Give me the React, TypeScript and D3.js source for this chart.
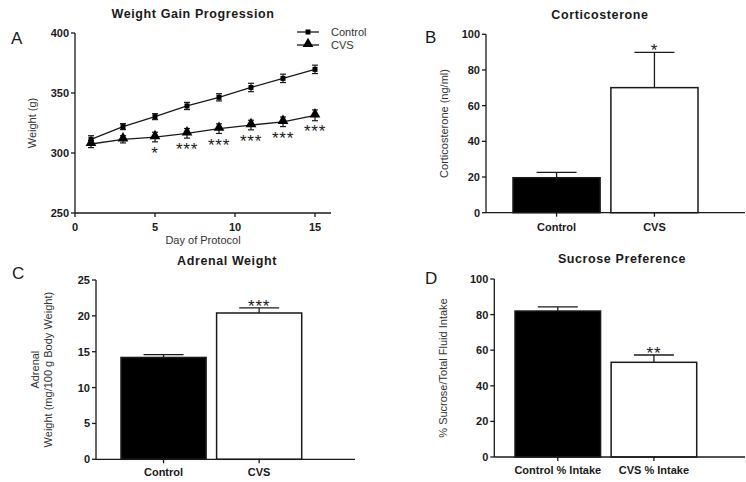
import * as d3 from 'd3';

const days = [1, 3, 5, 7, 9, 11, 13, 15];
const controlWeight = [311.4, 322, 330.3, 339.2, 346.4, 354.6, 362.2, 369.7];
const controlWeightErr = [3, 2.5, 2.5, 3, 3, 3.5, 3.5, 3.5];
const cvsWeight = [307.5, 311.4, 313.3, 316.4, 320.3, 323.3, 326, 331.4];
const cvsWeightErr = [3, 3, 4, 4, 4, 4, 4, 4.5];
const weightStars = ['', '', '*', '***', '***', '***', '***', '***'];
const weightTicks = [250, 300, 350, 400];
const dayTicks = [0, 5, 10, 15];

const groups = ['Control', 'CVS'];
const corticosterone = [19.6, 70.1];
const corticosteroneErr = [3, 19.8];
const corticosteroneStars = ['', '*'];

const adrenal = [14.2, 20.4];
const adrenalErr = [0.4, 0.7];
const adrenalStars = ['', '***'];

const sucroseGroups = ['Control % Intake', 'CVS % Intake'];
const sucrose = [82, 53.2];
const sucroseErr = [2.3, 4.1];
const sucroseStars = ['', '**'];

const FONT = '"Liberation Sans", Arial, sans-serif';
const INK = '#1a1a1a';
const STAR_SIZE = 17;

function LeftAxis({ scale, x, ticks }: { scale: d3.ScaleLinear<number, number>; x: number; ticks: number[] }) {
  const [y0, y1] = scale.range();
  return (
    <g>
      <line x1={x} x2={x} y1={y0} y2={y1} stroke={INK} strokeWidth={1.3} />
      {ticks.map((t) => (
        <g key={t}>
          <line x1={x - 4} x2={x} y1={scale(t)} y2={scale(t)} stroke={INK} strokeWidth={1.3} />
          <text x={x - 6} y={scale(t) + 4} textAnchor="end" fontSize={11} fontWeight="bold" fill={INK}>
            {t}
          </text>
        </g>
      ))}
    </g>
  );
}

interface BarPanelProps {
  letter: string;
  letterPos: [number, number];
  title: string;
  titleX: number;
  titleY: number;
  cats: string[];
  values: number[];
  errs: number[];
  stars: string[];
  yMax: number;
  yTicks: number[];
  axisX: number;
  axisEnd: number;
  yTop: number;
  yBottom: number;
  barRange: [number, number];
  yLabel: string[];
  yLabelX: number;
  labelBaseline: number;
}

function BarPanel(p: BarPanelProps) {
  const y = d3.scaleLinear().domain([0, p.yMax]).range([p.yBottom, p.yTop]);
  const x = d3.scaleBand<string>().domain(p.cats).range(p.barRange).paddingInner(0.11).paddingOuter(0);
  const bw = x.bandwidth();
  const cap = 40;
  const midY = (p.yTop + p.yBottom) / 2;
  return (
    <g>
      <text x={p.letterPos[0]} y={p.letterPos[1]} fontSize={17} fill={INK}>
        {p.letter}
      </text>
      <text x={p.titleX} y={p.titleY} textAnchor="middle" fontSize={12.5} fontWeight="bold" letterSpacing={0.6} fill={INK}>
        {p.title}
      </text>
      {p.cats.map((c, i) => {
        const cx = x(c)! + bw / 2;
        const top = y(p.values[i] + p.errs[i]);
        return (
          <g key={c}>
            <line x1={cx} x2={cx} y1={y(p.values[i])} y2={top} stroke={INK} strokeWidth={1.3} />
            <line x1={cx - cap / 2} x2={cx + cap / 2} y1={top} y2={top} stroke={INK} strokeWidth={1.3} />
            <rect
              x={x(c)!}
              y={y(p.values[i])}
              width={bw}
              height={y(0) - y(p.values[i])}
              fill={i === 0 ? '#000' : '#fff'}
              stroke={INK}
              strokeWidth={1.5}
            />
            {p.stars[i] && (
              <text x={cx} y={top + 4} textAnchor="middle" fontSize={STAR_SIZE} letterSpacing={0.8} fill={INK}>
                {p.stars[i]}
              </text>
            )}
            <line x1={cx} x2={cx} y1={p.yBottom} y2={p.yBottom + 4} stroke={INK} strokeWidth={1.3} />
            <text x={cx} y={p.labelBaseline} textAnchor="middle" fontSize={11} fontWeight="bold" fill={INK}>
              {c}
            </text>
          </g>
        );
      })}
      <line x1={p.axisX} x2={p.axisEnd} y1={p.yBottom} y2={p.yBottom} stroke={INK} strokeWidth={1.3} />
      <LeftAxis scale={y} x={p.axisX} ticks={p.yTicks} />
      {p.yLabel.map((l, i) => {
        const lx = p.yLabelX + (i - (p.yLabel.length - 1) / 2) * 13;
        return (
          <text key={l} transform={`translate(${lx},${midY}) rotate(-90)`} textAnchor="middle" fontSize={11} fill="#333">
            {l}
          </text>
        );
      })}
    </g>
  );
}

function WeightPanel() {
  const x = d3.scaleLinear().domain([0, 16]).range([75, 331]);
  const y = d3.scaleLinear().domain([250, 400]).range([213, 33]);
  const line = d3
    .line<number>()
    .x((_, i) => x(days[i]))
    .y((d) => y(d));
  const tri = d3.symbol(d3.symbolTriangle, 50)()!;
  return (
    <g>
      <text x={11} y={44} fontSize={17} fill={INK}>A</text>
      <text x={193} y={18} textAnchor="middle" fontSize={12.5} fontWeight="bold" letterSpacing={0.6} fill={INK}>
        Weight Gain Progression
      </text>
      <path d={line(controlWeight)!} fill="none" stroke={INK} strokeWidth={1.3} />
      <path d={line(cvsWeight)!} fill="none" stroke={INK} strokeWidth={1.3} />
      {days.map((d, i) => (
        <g key={d}>
          {[
            [controlWeight[i], controlWeightErr[i]],
            [cvsWeight[i], cvsWeightErr[i]],
          ].map(([v, e], k) => (
            <g key={k}>
              <line x1={x(d)} x2={x(d)} y1={y(v - e)} y2={y(v + e)} stroke={INK} strokeWidth={1.2} />
              <line x1={x(d) - 3} x2={x(d) + 3} y1={y(v - e)} y2={y(v - e)} stroke={INK} strokeWidth={1.2} />
              <line x1={x(d) - 3} x2={x(d) + 3} y1={y(v + e)} y2={y(v + e)} stroke={INK} strokeWidth={1.2} />
            </g>
          ))}
          <rect x={x(d) - 2.5} y={y(controlWeight[i]) - 2.5} width={5} height={5} fill="#000" />
          <path d={tri} transform={`translate(${x(d)},${y(cvsWeight[i]) - 1})`} fill="#000" />
          {weightStars[i] && (
            <text x={x(d)} y={y(cvsWeight[i]) + 22} textAnchor="middle" fontSize={STAR_SIZE} letterSpacing={0.8} fill={INK}>
              {weightStars[i]}
            </text>
          )}
        </g>
      ))}
      <line x1={75} x2={331} y1={213} y2={213} stroke={INK} strokeWidth={1.3} />
      {dayTicks.map((t) => (
        <g key={t}>
          <line x1={x(t)} x2={x(t)} y1={213} y2={217} stroke={INK} strokeWidth={1.3} />
          <text x={x(t)} y={231} textAnchor="middle" fontSize={11} fontWeight="bold" fill={INK}>
            {t}
          </text>
        </g>
      ))}
      <LeftAxis scale={y} x={75} ticks={weightTicks} />
      <text x={203} y={244} textAnchor="middle" fontSize={11} fill="#333">Day of Protocol</text>
      <text transform="translate(36,123) rotate(-90)" textAnchor="middle" fontSize={11} fill="#333">
        Weight (g)
      </text>
      <line x1={297} x2={319} y1={32} y2={32} stroke={INK} strokeWidth={1.3} />
      <rect x={305.5} y={29.5} width={5} height={5} fill="#000" />
      <text x={331} y={36} fontSize={11} fill="#333">Control</text>
      <line x1={297} x2={319} y1={45} y2={45} stroke={INK} strokeWidth={1.3} />
      <path d={tri} transform="translate(308,44)" fill="#000" />
      <text x={331} y={49} fontSize={11} fill="#333">CVS</text>
    </g>
  );
}

export default function App() {
  return (
    <svg width={746} height={482} style={{ position: 'absolute', left: 0, top: 0, background: '#fff' }} fontFamily={FONT}>
      <rect width={746} height={482} fill="#fff" />
      <WeightPanel />
      <BarPanel
        letter="B"
        letterPos={[425, 43]}
        title="Corticosterone"
        titleX={600}
        titleY={19}
        cats={groups}
        values={corticosterone}
        errs={corticosteroneErr}
        stars={corticosteroneStars}
        yMax={100}
        yTicks={[0, 20, 40, 60, 80, 100]}
        axisX={486}
        axisEnd={745}
        yTop={34.3}
        yBottom={212.7}
        barRange={[513, 698]}
        yLabel={['Corticosterone (ng/ml)']}
        yLabelX={448}
        labelBaseline={231}
      />
      <BarPanel
        letter="C"
        letterPos={[12, 279]}
        title="Adrenal Weight"
        titleX={227}
        titleY={265}
        cats={groups}
        values={adrenal}
        errs={adrenalErr}
        stars={adrenalStars}
        yMax={25}
        yTicks={[0, 5, 10, 15, 20, 25]}
        axisX={96}
        axisEnd={355}
        yTop={280}
        yBottom={459.3}
        barRange={[121, 301.7]}
        yLabel={['Adrenal', 'Weight (mg/100 g Body Weight)']}
        yLabelX={45}
        labelBaseline={476}
      />
      <BarPanel
        letter="D"
        letterPos={[425, 284]}
        title="Sucrose Preference"
        titleX={622}
        titleY={263}
        cats={sucroseGroups}
        values={sucrose}
        errs={sucroseErr}
        stars={sucroseStars}
        yMax={100}
        yTicks={[0, 20, 40, 60, 80, 100]}
        axisX={494.3}
        axisEnd={745}
        yTop={279}
        yBottom={457}
        barRange={[515, 696.7]}
        yLabel={['% Sucrose/Total Fluid Intake']}
        yLabelX={447}
        labelBaseline={474}
      />
    </svg>
  );
}
